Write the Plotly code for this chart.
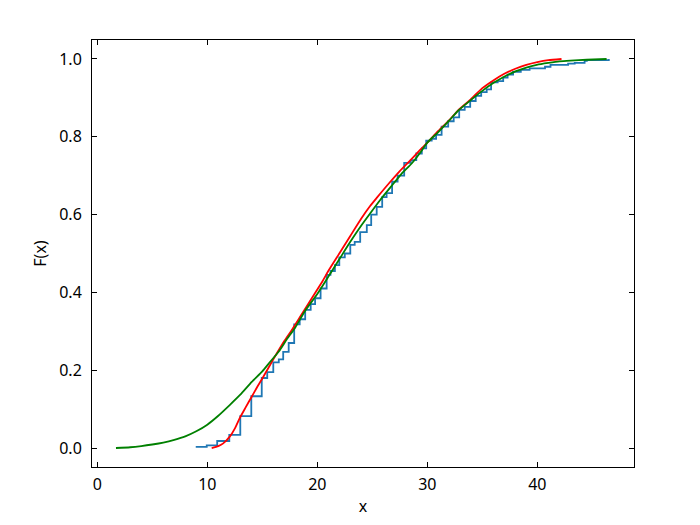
import plotly.graph_objects as go

ecdf_x = [8.95, 9.95, 10.9, 12.0, 13.0, 14.0, 14.95, 15.45, 16.0, 16.5, 16.9, 17.4, 17.9,
          18.4, 18.9, 19.4, 19.8, 20.3, 20.85, 21.2, 21.6, 22.0, 22.5, 23.0, 23.4, 23.9,
          24.5, 24.9, 25.4, 25.9, 26.3, 26.8, 27.3, 27.9, 28.5, 29.0, 29.5, 29.9, 30.4,
          30.8, 31.3, 31.9, 32.4, 32.9, 33.4, 33.9, 34.4, 34.9, 35.4, 35.8, 36.4, 36.9,
          37.3, 37.8, 38.5, 39.3, 40.7, 41.2, 42.8, 43.4, 44.3, 44.5, 46.5]
ecdf_f = [0.003, 0.007, 0.018, 0.034, 0.082, 0.133, 0.180, 0.195, 0.220, 0.228, 0.247, 0.270, 0.318,
          0.331, 0.355, 0.370, 0.385, 0.410, 0.445, 0.455, 0.470, 0.490, 0.500, 0.522, 0.530, 0.555,
          0.573, 0.600, 0.620, 0.645, 0.655, 0.685, 0.700, 0.733, 0.740, 0.757, 0.770, 0.790, 0.795,
          0.805, 0.826, 0.840, 0.850, 0.869, 0.877, 0.892, 0.905, 0.915, 0.922, 0.940, 0.943, 0.952,
          0.960, 0.967, 0.972, 0.976, 0.980, 0.985, 0.988, 0.990, 0.995, 0.997, 1.000]

# Red fitted CDF
red_x = [10.4, 11.0, 11.45, 12.06, 12.5, 12.97, 13.5, 14.0, 14.5, 14.95, 16.0, 17.0, 17.67,
         18.5, 19.5, 20.5, 21.0, 22.0, 23.0, 24.0, 24.8, 25.4, 26.5, 27.5, 28.3, 29.3, 30.0,
         31.0, 32.0, 32.8, 33.9, 35.0, 36.0, 37.0, 38.0, 39.0, 40.0, 41.0, 42.2]
red_f = [0.0, 0.005, 0.012, 0.030, 0.050, 0.078, 0.105, 0.130, 0.155, 0.176, 0.228, 0.275, 0.303,
         0.340, 0.385, 0.430, 0.455, 0.500, 0.545, 0.590, 0.622, 0.643, 0.680, 0.712, 0.735, 0.765, 0.785,
         0.815, 0.843, 0.868, 0.895, 0.925, 0.945, 0.962, 0.975, 0.985, 0.992, 0.997, 1.0]

# Green fitted CDF
green_x = [1.7, 3.0, 4.0, 5.0, 6.0, 7.0, 8.0, 9.0, 10.0, 11.0, 12.06, 13.0, 14.04, 15.0, 15.7,
           16.5, 17.2, 18.0, 18.9, 20.0, 21.0, 22.0, 23.0, 24.0, 24.8, 25.7, 26.7, 27.6, 28.6,
           29.3, 30.0, 31.0, 32.0, 32.8, 33.9, 35.0, 36.0, 36.9, 38.0, 39.0, 39.95, 41.0, 42.0,
           43.0, 44.5, 46.3]
green_f = [0.0, 0.002, 0.005, 0.009, 0.014, 0.021, 0.030, 0.043, 0.060, 0.083, 0.111, 0.137, 0.170, 0.197, 0.221,
           0.248, 0.278, 0.310, 0.353, 0.396, 0.440, 0.485, 0.530, 0.572, 0.603, 0.637, 0.672, 0.703, 0.732,
           0.757, 0.785, 0.812, 0.842, 0.867, 0.893, 0.918, 0.938, 0.953, 0.968, 0.978, 0.985, 0.990, 0.994,
           0.996, 0.998, 1.0]

x_ticks = [0, 10, 20, 30, 40]
y_ticks = [0.0, 0.2, 0.4, 0.6, 0.8, 1.0]

fig = go.Figure()
fig.add_trace(go.Scatter(x=ecdf_x, y=ecdf_f, mode="lines", line=dict(color="#1f77b4", width=1.8, shape="hv")))
fig.add_trace(go.Scatter(x=red_x, y=red_f, mode="lines", line=dict(color="#ff0000", width=1.8, shape="spline", smoothing=0.6)))
fig.add_trace(go.Scatter(x=green_x, y=green_f, mode="lines", line=dict(color="#008000", width=1.8, shape="spline", smoothing=0.6)))

axis_common = dict(showgrid=False, zeroline=False, showline=True, linecolor="black", linewidth=1,
                   mirror="ticks", ticks="inside", ticklen=5, tickwidth=1, tickcolor="black",
                   tickfont=dict(family="Noto Sans", size=16, color="black"))

fig.update_layout(
    width=692, height=517,
    margin=dict(l=84, r=66, t=32, b=58),
    paper_bgcolor="white", plot_bgcolor="white",
    showlegend=False,
    font=dict(family="Noto Sans", size=16, color="black"),
    xaxis=dict(range=[-0.48, 48.79], tickvals=x_ticks, ticklabelstandoff=3,
               title=dict(text="x", standoff=6, font=dict(size=16)), **axis_common),
    yaxis=dict(range=[-0.0488, 1.0488], tickvals=y_ticks, tickformat=".1f", ticklabelstandoff=6,
               title=dict(text="F(x)", standoff=8, font=dict(size=16)), **axis_common),
)

fig.write_html("out.html")
